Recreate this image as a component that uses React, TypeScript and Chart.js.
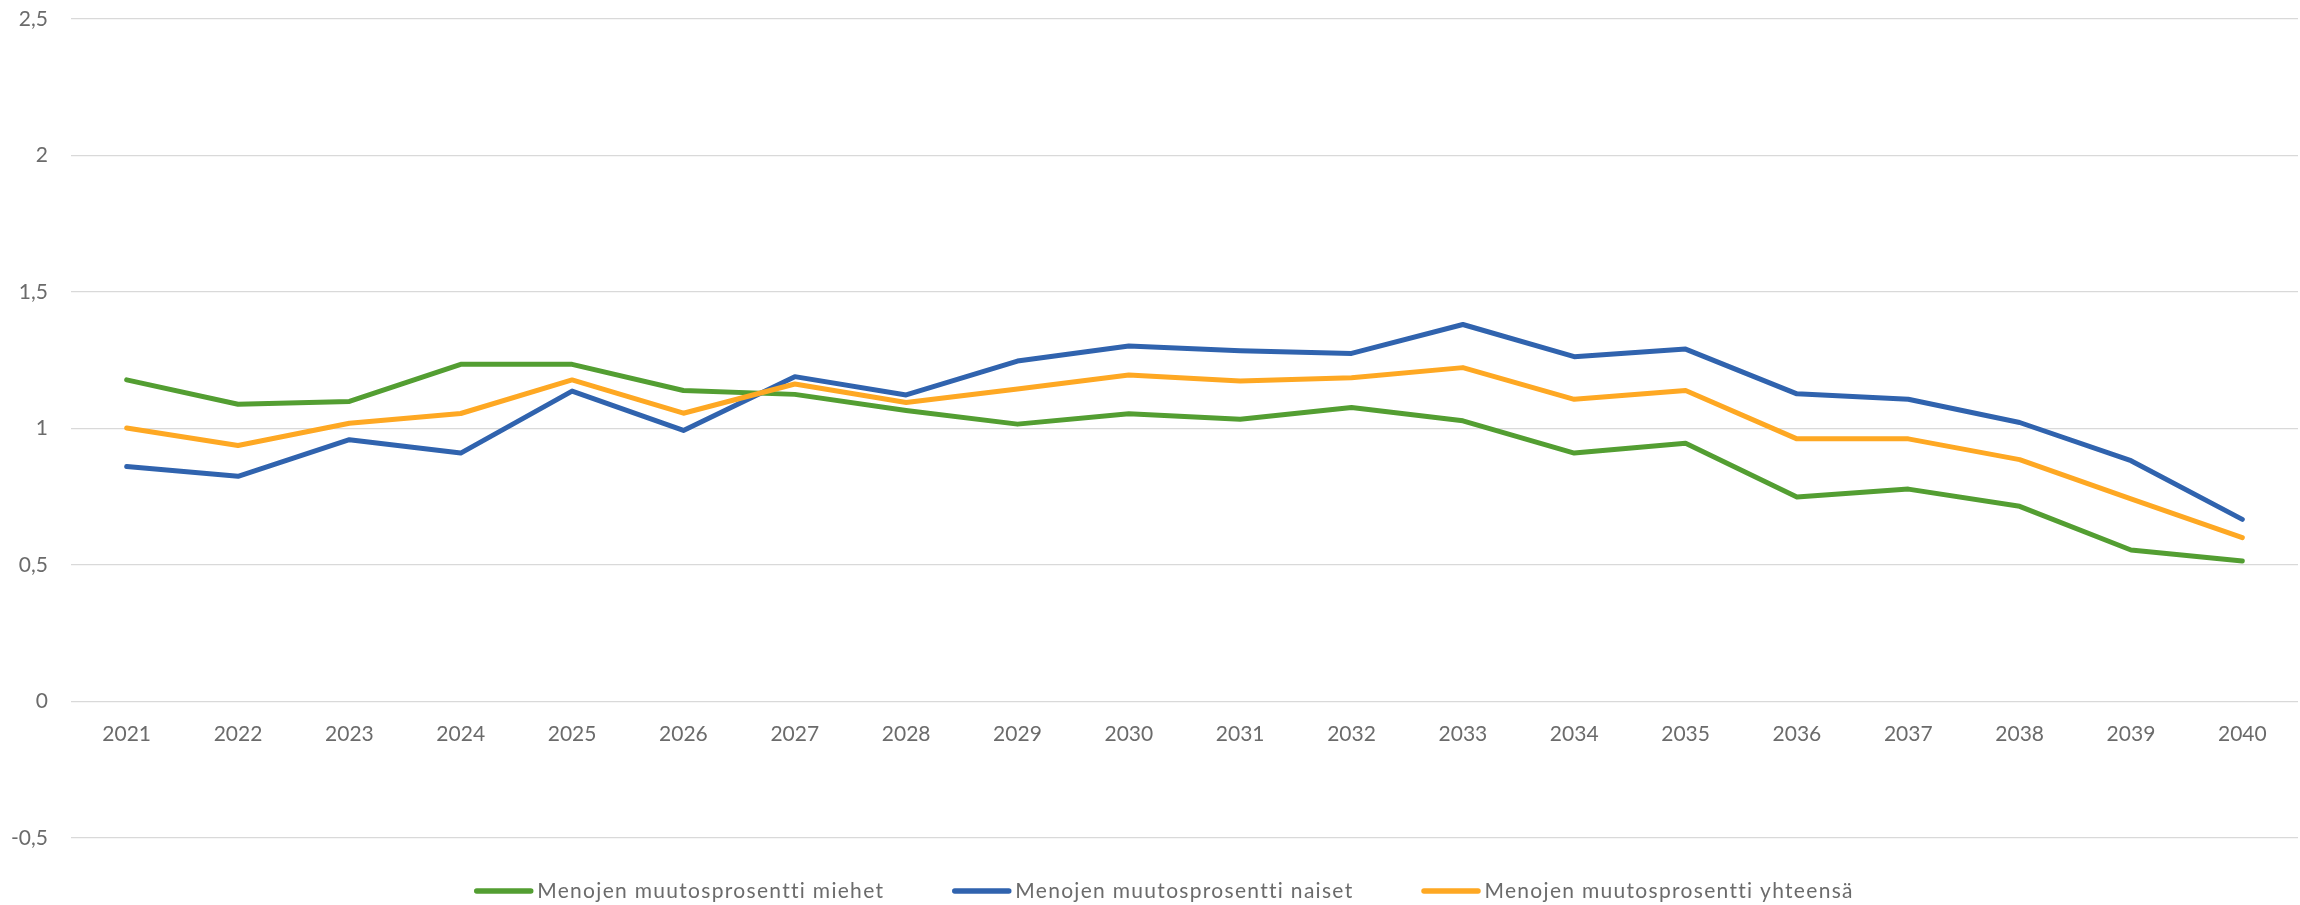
import { useEffect, useRef } from "react";
import { Chart, registerables } from "chart.js";

Chart.register(...registerables);

const years = [
  "2021", "2022", "2023", "2024", "2025", "2026", "2027", "2028", "2029", "2030",
  "2031", "2032", "2033", "2034", "2035", "2036", "2037", "2038", "2039", "2040",
];
const miehet = [1.178, 1.089, 1.099, 1.235, 1.235, 1.139, 1.125, 1.066, 1.016, 1.054, 1.034, 1.077, 1.028, 0.91, 0.946, 0.749, 0.778, 0.715, 0.555, 0.515];
const naiset = [0.861, 0.825, 0.959, 0.91, 1.137, 0.993, 1.19, 1.123, 1.247, 1.302, 1.285, 1.275, 1.381, 1.263, 1.291, 1.127, 1.107, 1.022, 0.882, 0.667];
const yhteensa = [1.002, 0.938, 1.019, 1.055, 1.178, 1.056, 1.163, 1.095, 1.145, 1.196, 1.174, 1.186, 1.223, 1.107, 1.139, 0.962, 0.962, 0.886, 0.742, 0.6];
const seriesLabels = [
  "Menojen muutosprosentti miehet",
  "Menojen muutosprosentti naiset",
  "Menojen muutosprosentti yhteensä",
];
const seriesColors = ["#539e32", "#3063ae", "#fea823"];
const yMin = -0.5;
const yMax = 2.5;
const yStep = 0.5;

const FONT = "Lato";
const FONT_SIZE = 21;
const TEXT_COLOR = "#6b6b6b";

const legendPlugin = {
  id: "bottomLegend",
  afterDraw(chart: any) {
    const ctx = chart.ctx as CanvasRenderingContext2D;
    const ds = chart.data.datasets;
    const swatch = 59;
    const gap = 4;
    const spacing = 68;
    const centerX = 1164;
    const y = 891;
    ctx.save();
    ctx.font = `${FONT_SIZE}px ${FONT}`;
    (ctx as any).letterSpacing = "1.3px";
    ctx.textBaseline = "middle";
    ctx.textAlign = "left";
    const widths = ds.map((d: any) => ctx.measureText(d.label).width);
    const total =
      widths.reduce((a: number, w: number) => a + swatch + gap + w, 0) + spacing * (ds.length - 1);
    let x = centerX - total / 2;
    ds.forEach((d: any, i: number) => {
      ctx.strokeStyle = d.borderColor;
      ctx.lineWidth = 5.5;
      ctx.lineCap = "round";
      ctx.beginPath();
      ctx.moveTo(x + 2.5, y);
      ctx.lineTo(x + swatch - 2.5, y);
      ctx.stroke();
      ctx.fillStyle = TEXT_COLOR;
      ctx.fillText(d.label, x + swatch + gap, y);
      x += swatch + gap + widths[i] + spacing;
    });
    ctx.restore();
  },
};

export default function App() {
  const ref = useRef<HTMLCanvasElement>(null);
  useEffect(() => {
    const values = [miehet, naiset, yhteensa];
    const drawOrder = [2, 1, 0];
    const chart = new Chart(ref.current!, {
      type: "line",
      data: {
        labels: years,
        datasets: values.map((v, i) => ({
          label: seriesLabels[i],
          data: v,
          borderColor: seriesColors[i],
          backgroundColor: seriesColors[i],
          borderWidth: 5,
          pointRadius: 0,
          pointHoverRadius: 0,
          tension: 0,
          borderJoinStyle: "round" as const,
          borderCapStyle: "round" as const,
          order: drawOrder[i],
          fill: false,
        })),
      },
      options: {
        responsive: false,
        animation: false,
        layout: { padding: { top: 19, right: 2, left: 0, bottom: 67 } },
        plugins: {
          legend: { display: false },
          tooltip: { enabled: false },
          title: { display: false },
        },
        scales: {
          x: {
            type: "category",
            offset: true,
            position: { y: 0 } as any,
            grid: { display: false },
            border: { display: false },
            ticks: {
              color: TEXT_COLOR,
              font: { family: FONT, size: FONT_SIZE },
              padding: 12,
              maxRotation: 0,
              autoSkip: false,
            },
          },
          y: {
            type: "linear",
            min: yMin,
            max: yMax,
            afterFit: (s: any) => {
              s.width = 71;
              s.paddingTop = 0;
              s.paddingBottom = 0;
            },
            grid: { color: "#d9d9d9", lineWidth: 1.2, drawTicks: false },
            border: { display: false },
            ticks: {
              stepSize: yStep,
              color: TEXT_COLOR,
              font: { family: FONT, size: FONT_SIZE },
              padding: 23,
              callback: (v: any) => String(Math.round(Number(v) * 10) / 10).replace(".", ","),
            },
          },
        },
      },
      plugins: [legendPlugin],
    });
    return () => chart.destroy();
  }, []);
  return (
    <div style={{ position: "absolute", left: 0, top: 0, width: 2300, height: 905, background: "#fff" }}>
      <canvas ref={ref} width={2300} height={905} style={{ display: "block" }} />
    </div>
  );
}
